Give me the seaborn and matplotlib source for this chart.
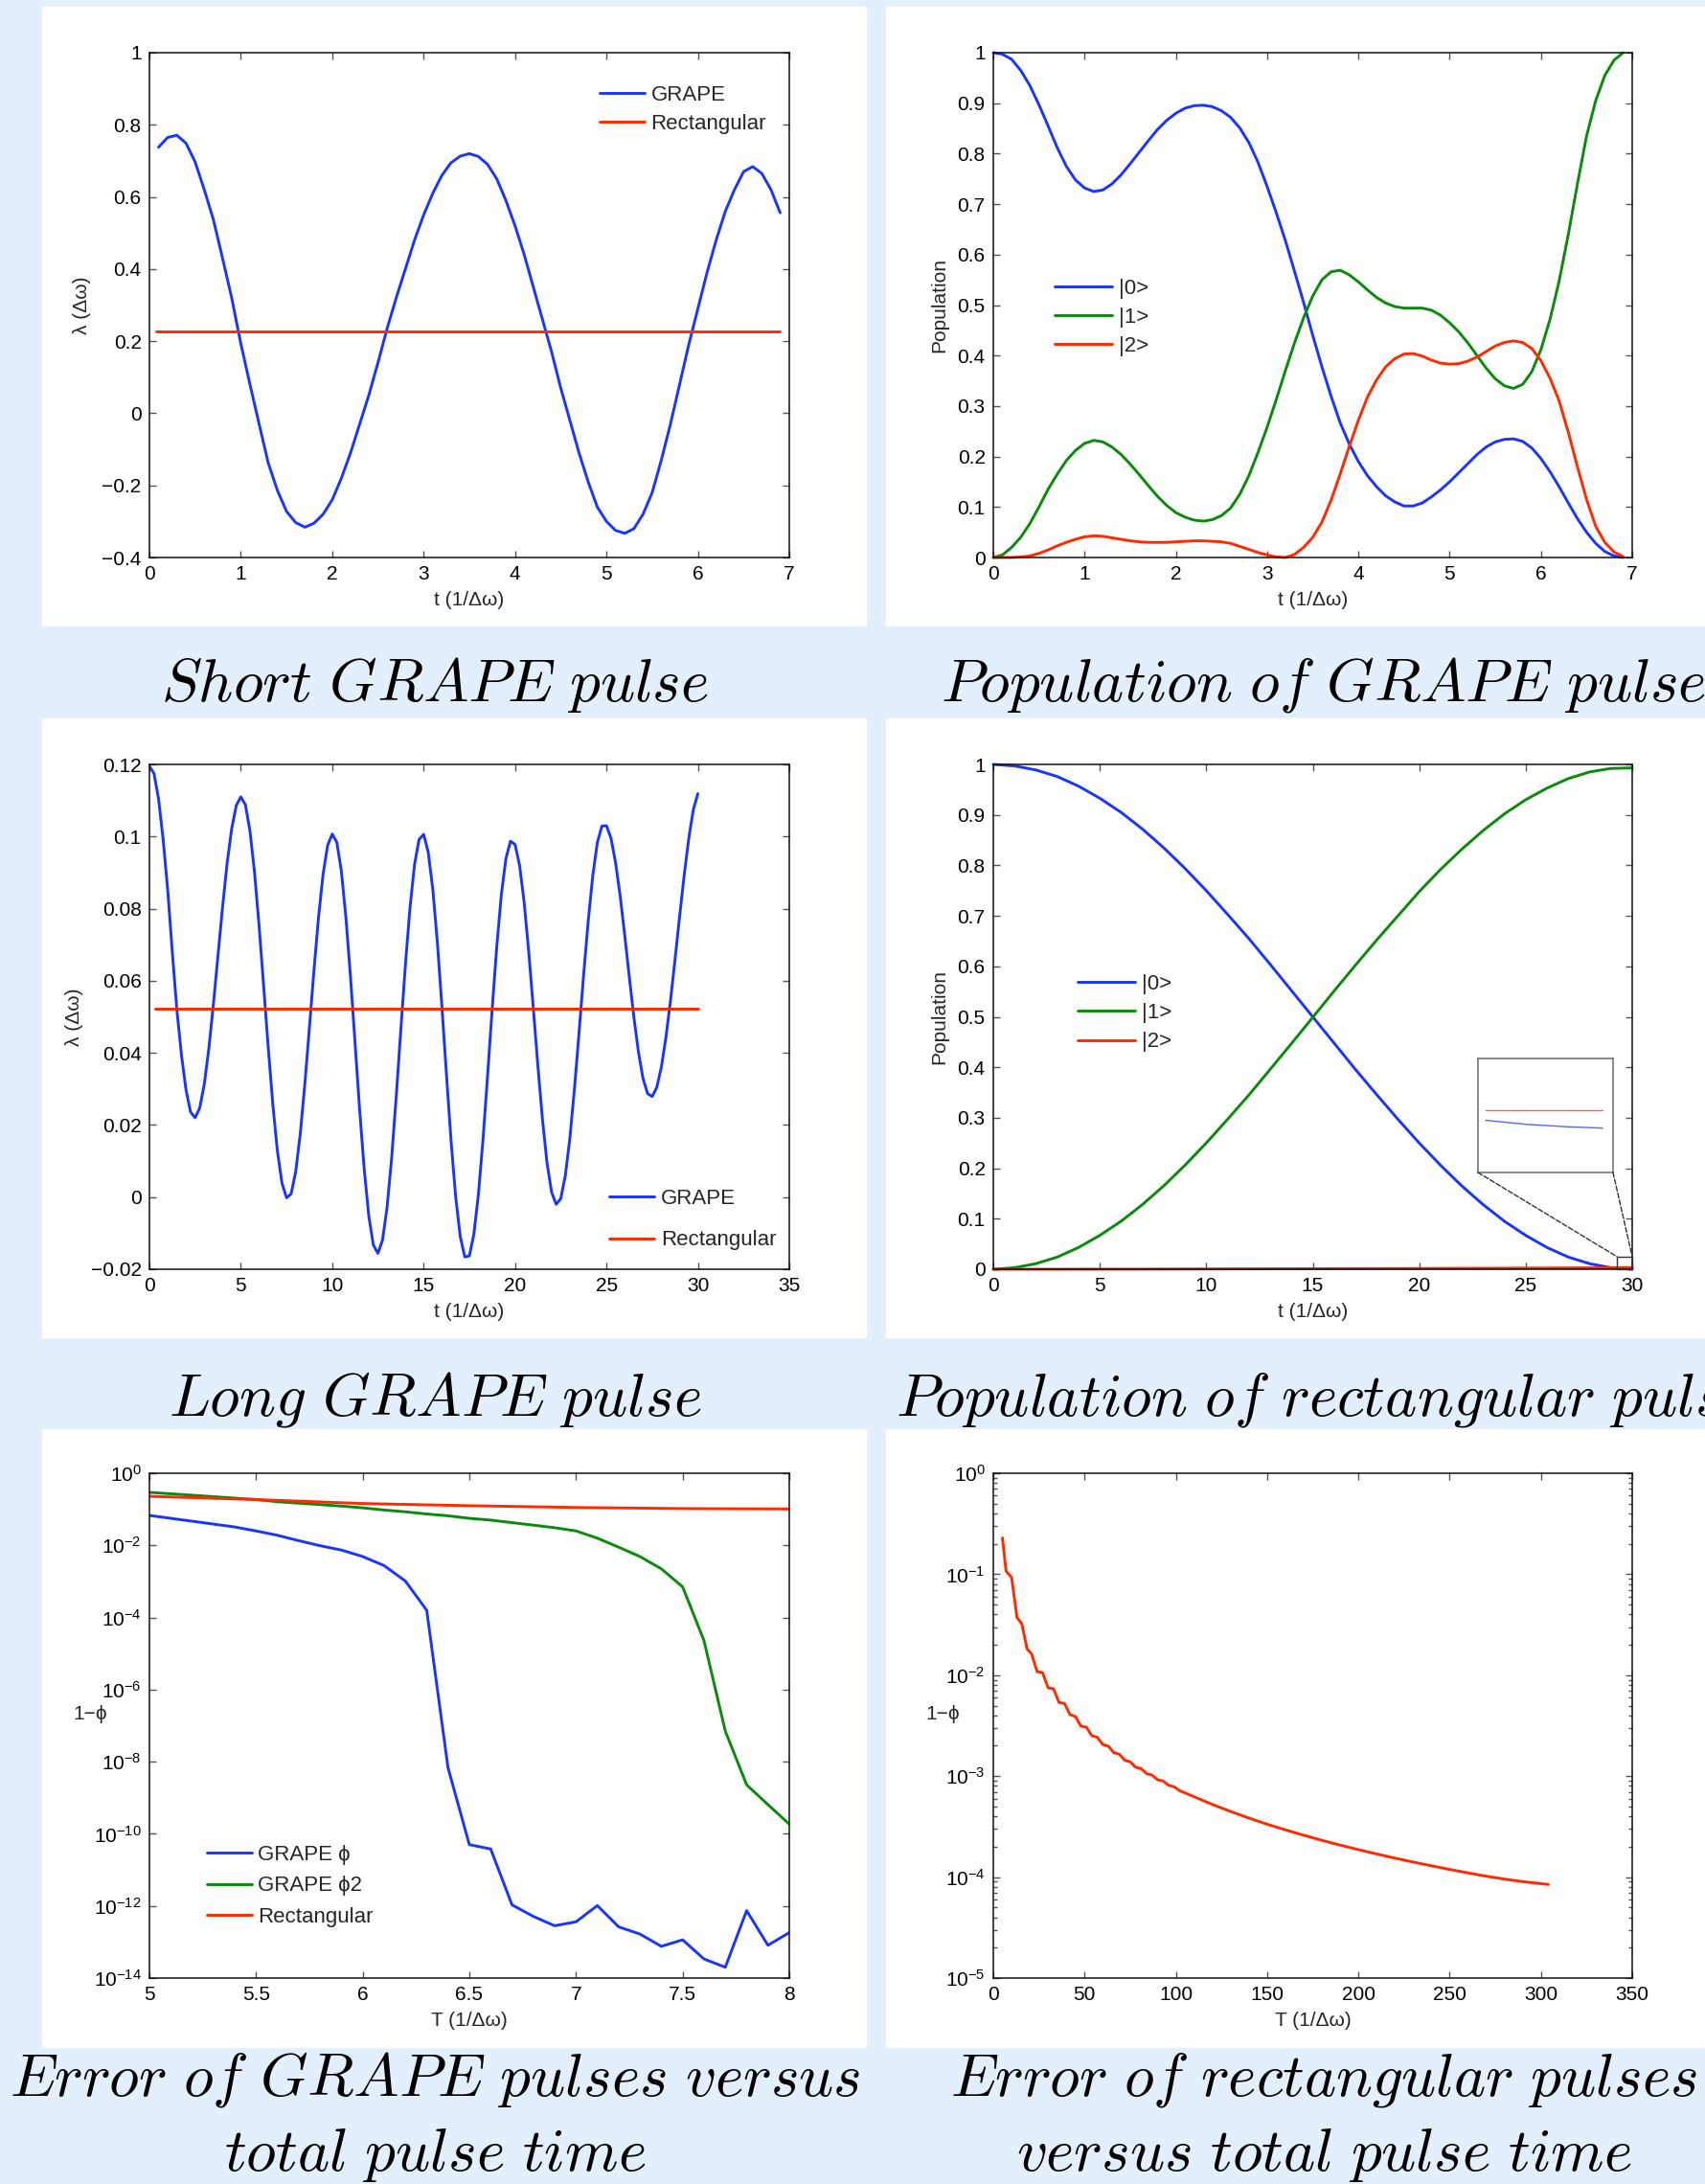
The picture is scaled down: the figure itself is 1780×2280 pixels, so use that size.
import numpy as np
import matplotlib
matplotlib.use('Agg')
import matplotlib.pyplot as plt
import seaborn as sns
from matplotlib.patches import Rectangle, ConnectionPatch
from matplotlib.ticker import FuncFormatter, LogLocator, NullLocator, NullFormatter, LogFormatterMathtext

# ---- short GRAPE pulse (row 1, left) ----
short_t = [0.1, 0.2, 0.3, 0.4, 0.5, 0.6, 0.7, 0.8, 0.9, 1.0, 1.1, 1.2, 1.3, 1.4, 1.5, 1.6, 1.7,
           1.8, 1.9, 2.0, 2.1, 2.2, 2.3, 2.4, 2.5, 2.6, 2.7, 2.8, 2.9, 3.0, 3.1, 3.2, 3.3, 3.4,
           3.5, 3.6, 3.7, 3.8, 3.9, 4.0, 4.1, 4.2, 4.3, 4.4, 4.5, 4.6, 4.7, 4.8, 4.9, 5.0, 5.1,
           5.2, 5.3, 5.4, 5.5, 5.6, 5.7, 5.8, 5.9, 6.0, 6.1, 6.2, 6.3, 6.4, 6.5, 6.6, 6.7, 6.8, 6.9]
short_grape = [0.738, 0.765, 0.771, 0.749, 0.697, 0.62, 0.537, 0.43, 0.32, 0.193, 0.08, -0.03,
               -0.138, -0.214, -0.272, -0.303, -0.316, -0.305, -0.28, -0.24, -0.18, -0.11, -0.03,
               0.05, 0.14, 0.235, 0.32, 0.40, 0.48, 0.55, 0.61, 0.66, 0.695, 0.713, 0.72, 0.712,
               0.69, 0.65, 0.59, 0.52, 0.44, 0.35, 0.26, 0.17, 0.07, -0.02, -0.11, -0.19, -0.26,
               -0.30, -0.325, -0.333, -0.32, -0.28, -0.22, -0.13, -0.03, 0.08, 0.19, 0.29, 0.39,
               0.48, 0.56, 0.62, 0.67, 0.684, 0.665, 0.62, 0.556]
short_rect_t = [0.07, 6.9]
short_rect = [0.228, 0.228]

# ---- population under the GRAPE pulse (row 1, right) ----
popg_t = [0.0, 0.1, 0.2, 0.3, 0.4, 0.5, 0.6, 0.7, 0.8, 0.9, 1.0, 1.1, 1.2, 1.3, 1.4, 1.5, 1.6,
          1.7, 1.8, 1.9, 2.0, 2.1, 2.2, 2.3, 2.4, 2.5, 2.6, 2.7, 2.8, 2.9, 3.0, 3.1, 3.2, 3.3,
          3.4, 3.5, 3.6, 3.7, 3.8, 3.9, 4.0, 4.1, 4.2, 4.3, 4.4, 4.5, 4.6, 4.7, 4.8, 4.9, 5.0,
          5.1, 5.2, 5.3, 5.4, 5.5, 5.6, 5.7, 5.8, 5.9, 6.0, 6.1, 6.2, 6.3, 6.4, 6.5, 6.6, 6.7,
          6.8, 6.9]
popg_0 = [1.0, 0.997, 0.987, 0.965, 0.935, 0.897, 0.855, 0.812, 0.775, 0.748, 0.732, 0.725,
          0.728, 0.740, 0.758, 0.780, 0.803, 0.826, 0.848, 0.866, 0.880, 0.890, 0.895, 0.896,
          0.893, 0.885, 0.872, 0.851, 0.822, 0.783, 0.735, 0.683, 0.628, 0.567, 0.505, 0.440,
          0.378, 0.320, 0.267, 0.225, 0.19, 0.162, 0.140, 0.122, 0.110, 0.102, 0.102, 0.108,
          0.120, 0.134, 0.150, 0.168, 0.186, 0.204, 0.219, 0.229, 0.234, 0.235, 0.230, 0.217,
          0.196, 0.170, 0.140, 0.108, 0.077, 0.050, 0.028, 0.012, 0.003, 0.0]
popg_1 = [0.0, 0.005, 0.02, 0.04, 0.067, 0.100, 0.135, 0.165, 0.192, 0.212, 0.226, 0.232,
          0.229, 0.219, 0.204, 0.185, 0.164, 0.142, 0.121, 0.103, 0.089, 0.080, 0.074, 0.072,
          0.075, 0.083, 0.098, 0.125, 0.162, 0.208, 0.258, 0.313, 0.37, 0.425, 0.475, 0.518,
          0.550, 0.566, 0.569, 0.560, 0.546, 0.530, 0.515, 0.504, 0.497, 0.494, 0.494, 0.494,
          0.490, 0.480, 0.465, 0.447, 0.425, 0.400, 0.375, 0.354, 0.340, 0.335, 0.343, 0.368,
          0.412, 0.472, 0.548, 0.640, 0.740, 0.835, 0.905, 0.955, 0.985, 1.0]
popg_2 = [0.0, 0.0, 0.0, 0.001, 0.003, 0.008, 0.015, 0.023, 0.030, 0.036, 0.041, 0.043, 0.042,
          0.039, 0.036, 0.033, 0.031, 0.030, 0.030, 0.030, 0.031, 0.032, 0.033, 0.033, 0.032,
          0.031, 0.028, 0.022, 0.016, 0.010, 0.005, 0.001, 0.0, 0.006, 0.02, 0.040, 0.070,
          0.113, 0.165, 0.22, 0.272, 0.318, 0.352, 0.378, 0.394, 0.403, 0.404, 0.399, 0.391,
          0.385, 0.383, 0.384, 0.389, 0.397, 0.408, 0.419, 0.426, 0.429, 0.426, 0.414, 0.39,
          0.355, 0.31, 0.248, 0.18, 0.115, 0.062, 0.030, 0.011, 0.002]

# ---- long GRAPE pulse (row 2, left) ----
long_t = [0.0, 0.25, 0.5, 0.75, 1.0, 1.25, 1.5, 1.75, 2.0, 2.25, 2.5, 2.75, 3.0, 3.25, 3.5, 3.75,
          4.0, 4.25, 4.5, 4.75, 5.0, 5.25, 5.5, 5.75, 6.0, 6.25, 6.5, 6.75, 7.0, 7.25, 7.5, 7.75,
          8.0, 8.25, 8.5, 8.75, 9.0, 9.25, 9.5, 9.75, 10.0, 10.25, 10.5, 10.75, 11.0, 11.25, 11.5,
          11.75, 12.0, 12.25, 12.5, 12.75, 13.0, 13.25, 13.5, 13.75, 14.0, 14.25, 14.5, 14.75,
          15.0, 15.25, 15.5, 15.75, 16.0, 16.25, 16.5, 16.75, 17.0, 17.25, 17.5, 17.75, 18.0,
          18.25, 18.5, 18.75, 19.0, 19.25, 19.5, 19.75, 20.0, 20.25, 20.5, 20.75, 21.0, 21.25,
          21.5, 21.75, 22.0, 22.25, 22.5, 22.75, 23.0, 23.25, 23.5, 23.75, 24.0, 24.25, 24.5,
          24.75, 25.0, 25.25, 25.5, 25.75, 26.0, 26.25, 26.5, 26.75, 27.0, 27.25, 27.5, 27.75,
          28.0, 28.25, 28.5, 28.75, 29.0, 29.25, 29.5, 29.75, 30.0]
long_grape = [0.1195, 0.1175, 0.1104, 0.0992, 0.0852, 0.0680, 0.0520, 0.0395, 0.0298, 0.0236,
              0.0220, 0.0247, 0.0313, 0.0412, 0.0535, 0.0670, 0.0804, 0.0926, 0.1022, 0.1086,
              0.1110, 0.1088, 0.1015, 0.0900, 0.0751, 0.0584, 0.0414, 0.0257, 0.0128, 0.0039,
              -0.0002, 0.0009, 0.0070, 0.0175, 0.0313, 0.0469, 0.0629, 0.0776, 0.0896, 0.0976,
              0.1007, 0.0984, 0.0904, 0.0774, 0.0610, 0.0426, 0.0241, 0.0077, -0.0053, -0.0133,
              -0.0156, -0.0119, -0.0028, 0.0109, 0.0279, 0.0463, 0.0643, 0.0801, 0.0922, 0.0992,
              0.1006, 0.0957, 0.0854, 0.0707, 0.0528, 0.0338, 0.0156, 0.0002, -0.0109, -0.0166,
              -0.0163, -0.0102, 0.0010, 0.0162, 0.0339, 0.0523, 0.0695, 0.0839, 0.0939, 0.0987,
              0.0978, 0.0919, 0.0816, 0.0679, 0.0523, 0.0363, 0.0215, 0.0094, 0.0013, -0.0020,
              -0.0004, 0.0060, 0.0164, 0.0301, 0.0456, 0.0616, 0.0765, 0.0891, 0.0983, 0.1029,
              0.1030, 0.0995, 0.0927, 0.0835, 0.0726, 0.0610, 0.0499, 0.0402, 0.0329, 0.0287,
              0.0279, 0.0304, 0.0360, 0.0442, 0.0544, 0.0659, 0.0778, 0.0892, 0.0994, 0.1074,
              0.1119]
long_rect_t = [0.3, 30.0]
long_rect = [0.0523, 0.0523]

# ---- population under the rectangular pulse (row 2, right) ----
popr_t = [0, 1, 2, 3, 4, 5, 6, 7, 8, 9, 10, 11, 12, 13, 14, 15, 16, 17, 18, 19, 20, 21, 22, 23,
          24, 25, 26, 27, 28, 29, 30]
popr_0 = [1.0, 0.997, 0.989, 0.976, 0.957, 0.933, 0.905, 0.872, 0.835, 0.794, 0.75, 0.703, 0.655,
          0.604, 0.552, 0.5, 0.448, 0.396, 0.346, 0.297, 0.25, 0.206, 0.165, 0.128, 0.095, 0.067,
          0.043, 0.024, 0.011, 0.003, 0.0001]
popr_1 = [0.0, 0.003, 0.011, 0.024, 0.043, 0.067, 0.095, 0.128, 0.165, 0.206, 0.25, 0.297, 0.345,
          0.396, 0.447, 0.499, 0.551, 0.602, 0.652, 0.7, 0.748, 0.792, 0.832, 0.869, 0.902, 0.93,
          0.953, 0.972, 0.985, 0.992, 0.993]
popr_2 = [0.0, 0.0, 0.0, 0.0, 0.0001, 0.0001, 0.0002, 0.0002, 0.0003, 0.0004, 0.0005, 0.0006,
          0.0007, 0.0008, 0.0009, 0.001, 0.0011, 0.0012, 0.0013, 0.0014, 0.0015, 0.0017, 0.0018,
          0.0019, 0.002, 0.0022, 0.0023, 0.0025, 0.0027, 0.0029, 0.003]
# zoomed tail shown in the inset
tail_t = [29.3, 29.55, 29.8, 30.0]
tail_0 = [0.0014, 0.0007, 0.0003, 0.0001]
tail_2 = [0.003, 0.003, 0.003, 0.003]

# ---- error of GRAPE pulses vs total time (row 3, left), log10(1-phi) ----
err_T = [5.0, 5.1, 5.2, 5.3, 5.4, 5.5, 5.6, 5.7, 5.8, 5.9, 6.0, 6.1, 6.2, 6.3, 6.4, 6.5, 6.6, 6.7,
         6.8, 6.9, 7.0, 7.1, 7.2, 7.3, 7.4, 7.5, 7.6, 7.7, 7.8, 7.9, 8.0]
err_grape_log = [-1.17, -1.25, -1.33, -1.41, -1.49, -1.60, -1.72, -1.87, -2.01, -2.13, -2.31,
                 -2.56, -2.99, -3.80, -8.17, -10.30, -10.42, -11.97, -12.29, -12.55, -12.44,
                 -11.99, -12.58, -12.78, -13.12, -12.94, -13.47, -13.70, -12.13, -13.09, -12.74]
err_grape2_log = [-0.53, -0.57, -0.61, -0.65, -0.69, -0.73, -0.79, -0.83, -0.87, -0.91, -0.96,
                  -1.02, -1.07, -1.13, -1.18, -1.25, -1.30, -1.37, -1.44, -1.51, -1.60, -1.80,
                  -2.05, -2.31, -2.65, -3.15, -4.64, -7.15, -8.64, -9.19, -9.73]
err_rect_T = [5.0, 5.5, 6.0, 6.5, 7.0, 7.5, 8.0]
err_rect_log = [-0.64, -0.73, -0.84, -0.90, -0.95, -0.98, -0.99]

# ---- error of rectangular pulses vs total time (row 3, right), log10(1-phi) ----
rerr_T = [5, 7, 10, 13, 15.6, 18.5, 21, 24, 27, 30, 33, 36, 39, 42, 45, 48, 51, 54, 57, 60, 63,
          66, 69, 72, 75, 78, 81, 84, 87, 90, 93, 96, 99, 102, 110, 120, 130, 140, 150, 160, 170,
          180, 190, 200, 210, 220, 230, 240, 250, 260, 270, 280, 290, 300, 304]
rerr_log = [-0.64, -0.97, -1.03, -1.43, -1.49, -1.74, -1.79, -1.965, -1.975, -2.125, -2.135,
            -2.27, -2.28, -2.39, -2.41, -2.505, -2.515, -2.60, -2.615, -2.687, -2.703, -2.767,
            -2.782, -2.842, -2.858, -2.912, -2.925, -2.975, -2.990, -3.036, -3.048, -3.090,
            -3.105, -3.143, -3.204, -3.280, -3.350, -3.415, -3.476, -3.532, -3.585, -3.636,
            -3.683, -3.728, -3.771, -3.812, -3.851, -3.888, -3.924, -3.958, -3.991, -4.020,
            -4.045, -4.065, -4.073]

BLUE = '#1a34ff'
GREEN = '#0a8a0a'
RED = '#ff2a00'
BG = '#e3effc'
W, H = 1781, 2280
FS = 15
LFS = 16

sns.set_theme(style='ticks')
plt.rcParams['font.family'] = ['Liberation Sans', 'DejaVu Sans']
plt.rcParams.update({
    'mathtext.fontset': 'custom',
    'mathtext.rm': 'Liberation Sans',
    'mathtext.it': 'Liberation Sans:italic',
    'mathtext.bf': 'Liberation Sans:bold',
    'axes.unicode_minus': True,
})

fig = plt.figure(figsize=(W / 100, H / 100), dpi=100, facecolor=BG)


def px_axes(x0, y0, x1, y1):
    # axes placed with pixel coordinates measured from the top-left corner
    return fig.add_axes([x0 / W, 1 - y1 / H, (x1 - x0) / W, (y1 - y0) / H])


def white_panel(x0, y0, x1, y1):
    fig.add_artist(Rectangle((x0 / W, 1 - y1 / H), (x1 - x0) / W, (y1 - y0) / H,
                             transform=fig.transFigure, color='white', zorder=-10))


def caption(cx, base, text):
    fig.text(cx / W, 1 - base / H, text, ha='center', va='baseline', fontsize=45.5,
             math_fontfamily='cm', color='black')


def matlab_style(ax, log=False):
    ax.set_facecolor('white')
    ax.tick_params(which='both', direction='in', top=True, right=True, labelsize=FS,
                   color='#555555', width=1.0, labelcolor='black')
    ax.tick_params(which='major', length=5, pad=6)
    ax.tick_params(which='minor', length=3)
    for s in ax.spines.values():
        s.set_linewidth(1.1)
        s.set_color('#111111')
    if not log:
        fmt = FuncFormatter(lambda v, p: ('%g' % round(v, 6)).replace('-', '\u2212'))
        ax.xaxis.set_major_formatter(fmt)
        ax.yaxis.set_major_formatter(fmt)


def set_labels(ax, xl, yl, ylx, yrot=90, yly=0.5):
    ax.set_xlabel(xl, fontsize=FS, va='center')
    ax.xaxis.set_label_coords(0.5, -0.085)
    ax.set_ylabel(yl, fontsize=FS, rotation=yrot, ha='center', va='center')
    ax.yaxis.set_label_coords(ylx, yly)


def legend(ax, x, y, hl, sp):
    ax.legend(loc='upper left', bbox_to_anchor=(x, y), frameon=False, fontsize=LFS,
              handlelength=hl, handletextpad=0.3, labelspacing=sp, borderpad=0,
              borderaxespad=0)


for x0, x1 in [(44, 904), (925, 1800)]:
    for y0, y1 in [(7, 653), (750, 1396), (1492, 2137)]:
        white_panel(x0, y0, x1, y1)

LX0, LX1, RX0, RX1 = 156, 824, 1037, 1704
ROWS = [(55, 582), (798, 1325), (1538, 2065)]
lw = 2.1

# row 1 left: short GRAPE pulse
ax = px_axes(LX0, ROWS[0][0], LX1, ROWS[0][1])
sns.lineplot(x=short_t, y=short_grape, ax=ax, color=BLUE, lw=lw, label='GRAPE', estimator=None)
sns.lineplot(x=short_rect_t, y=short_rect, ax=ax, color=RED, lw=lw, label='Rectangular', estimator=None)
ax.set_xlim(0, 7)
ax.set_ylim(-0.4, 1)
ax.set_xticks(range(0, 8))
ax.set_yticks([-0.4, -0.2, 0, 0.2, 0.4, 0.6, 0.8, 1.0])
matlab_style(ax)
set_labels(ax, 't (1/\u0394\u03c9)', '\u03bb (\u0394\u03c9)', -0.105)
legend(ax, 0.704, 0.936, 2.1, 0.42)

# row 1 right: population, GRAPE pulse
ax = px_axes(RX0, ROWS[0][0], RX1, ROWS[0][1])
sns.lineplot(x=popg_t, y=popg_0, ax=ax, color=BLUE, lw=lw, label='|0>', estimator=None, clip_on=False)
sns.lineplot(x=popg_t, y=popg_1, ax=ax, color=GREEN, lw=lw, label='|1>', estimator=None, clip_on=False)
sns.lineplot(x=popg_t, y=popg_2, ax=ax, color=RED, lw=lw, label='|2>', estimator=None, clip_on=False)
ax.set_xlim(0, 7)
ax.set_ylim(0, 1)
ax.set_xticks(range(0, 8))
ax.set_yticks(np.round(np.arange(0, 1.01, 0.1), 1))
matlab_style(ax)
set_labels(ax, 't (1/\u0394\u03c9)', 'Population', -0.085)
legend(ax, 0.096, 0.553, 2.7, 0.42)

# row 2 left: long GRAPE pulse
ax = px_axes(LX0, ROWS[1][0], LX1, ROWS[1][1])
sns.lineplot(x=long_t, y=long_grape, ax=ax, color=BLUE, lw=lw, label='GRAPE', estimator=None)
sns.lineplot(x=long_rect_t, y=long_rect, ax=ax, color=RED, lw=lw, label='Rectangular', estimator=None)
ax.set_xlim(0, 35)
ax.set_ylim(-0.02, 0.12)
ax.set_xticks(range(0, 36, 5))
ax.set_yticks([-0.02, 0, 0.02, 0.04, 0.06, 0.08, 0.1, 0.12])
matlab_style(ax)
set_labels(ax, 't (1/\u0394\u03c9)', '\u03bb (\u0394\u03c9)', -0.118)
legend(ax, 0.719, 0.160, 2.1, 1.02)

# row 2 right: population, rectangular pulse, with zoomed inset
ax = px_axes(RX0, ROWS[1][0], RX1, ROWS[1][1])
sns.lineplot(x=popr_t, y=popr_0, ax=ax, color=BLUE, lw=lw, label='|0>', estimator=None, clip_on=False)
sns.lineplot(x=popr_t, y=popr_1, ax=ax, color=GREEN, lw=lw, label='|1>', estimator=None, clip_on=False)
sns.lineplot(x=popr_t, y=popr_2, ax=ax, color=RED, lw=lw, label='|2>', estimator=None, clip_on=False)
ax.set_xlim(0, 30)
ax.set_ylim(0, 1)
ax.set_xticks(range(0, 31, 5))
ax.set_yticks(np.round(np.arange(0, 1.01, 0.1), 1))
matlab_style(ax)
set_labels(ax, 't (1/\u0394\u03c9)', 'Population', -0.085)
legend(ax, 0.132, 0.585, 2.7, 0.42)
ax.add_patch(Rectangle((29.28, 0), 0.72, 0.025, fill=False, ec='#333333', lw=1.0,
                       clip_on=False, zorder=5))

axins = px_axes(1543, 1105, 1684, 1224)
sns.lineplot(x=tail_t, y=tail_2, ax=axins, color=RED, lw=1.0, alpha=0.75, estimator=None)
sns.lineplot(x=tail_t, y=tail_0, ax=axins, color=BLUE, lw=1.0, alpha=0.75, estimator=None)
axins.set_xlim(29.254, 30.063)
axins.set_ylim(-0.0073, 0.0117)
axins.set_xticks([])
axins.set_yticks([])
axins.set_xlabel('')
axins.set_ylabel('')
for s in axins.spines.values():
    s.set_color('#777777')
    s.set_linewidth(1.2)
for xa, xb in [(0, 29.28), (1, 30.0)]:
    con = ConnectionPatch(xyA=(xa, 0), coordsA=axins.transAxes, xyB=(xb, 0.025),
                          coordsB=ax.transData, ls='--', color='#333333', lw=1.0)
    fig.add_artist(con)

# row 3 left: error of GRAPE pulses
ax = px_axes(LX0, ROWS[2][0], LX1, ROWS[2][1])
sns.lineplot(x=err_T, y=10.0 ** np.array(err_grape_log), ax=ax, color=BLUE, lw=lw,
             label='GRAPE \u03d5', estimator=None)
sns.lineplot(x=err_T, y=10.0 ** np.array(err_grape2_log), ax=ax, color=GREEN, lw=lw,
             label='GRAPE \u03d52', estimator=None)
sns.lineplot(x=err_rect_T, y=10.0 ** np.array(err_rect_log), ax=ax, color=RED, lw=lw,
             label='Rectangular', estimator=None)
ax.set_yscale('log')
ax.set_xlim(5, 8)
ax.set_ylim(1e-14, 1)
ax.set_xticks([5, 5.5, 6, 6.5, 7, 7.5, 8])
ax.set_yticks([1e-14, 1e-12, 1e-10, 1e-8, 1e-6, 1e-4, 1e-2, 1])
ax.yaxis.set_minor_locator(NullLocator())
ax.yaxis.set_major_formatter(LogFormatterMathtext())
matlab_style(ax, log=True)
ax.xaxis.set_major_formatter(FuncFormatter(lambda v, p: '%g' % v))
set_labels(ax, 'T (1/\u0394\u03c9)', '1\u2212\u03d5', -0.092, yrot=0, yly=0.522)
legend(ax, 0.09, 0.264, 2.1, 0.52)

# row 3 right: error of rectangular pulses
ax = px_axes(RX0, ROWS[2][0], RX1, ROWS[2][1])
sns.lineplot(x=rerr_T, y=10.0 ** np.array(rerr_log), ax=ax, color=RED, lw=lw, estimator=None)
ax.set_yscale('log')
ax.set_xlim(0, 350)
ax.set_ylim(1e-5, 1)
ax.set_xticks(range(0, 351, 50))
ax.yaxis.set_major_locator(LogLocator(base=10))
ax.yaxis.set_minor_locator(LogLocator(base=10, subs=np.arange(2, 10)))
ax.yaxis.set_minor_formatter(NullFormatter())
ax.yaxis.set_major_formatter(LogFormatterMathtext())
matlab_style(ax, log=True)
ax.xaxis.set_major_formatter(FuncFormatter(lambda v, p: '%g' % v))
set_labels(ax, 'T (1/\u0394\u03c9)', '1\u2212\u03d5', -0.079, yrot=0, yly=0.522)

# captions under each panel
caption(454, 732, r'$Short\ GRAPE\ pulse$')
caption(1382, 732, r'$Population\ of\ GRAPE\ pulse$')
caption(454, 1477, r'$Long\ GRAPE\ pulse$')
caption(1382, 1477, r'$Population\ of\ rectangular\ pulse$')
caption(454, 2187, r'$Error\ of\ GRAPE\ pulses\ versus$')
caption(454, 2266, r'$total\ pulse\ time$')
caption(1382, 2187, r'$Error\ of\ rectangular\ pulses$')
caption(1382, 2266, r'$versus\ total\ pulse\ time$')

fig.savefig('out.png', dpi=100, facecolor=BG)
